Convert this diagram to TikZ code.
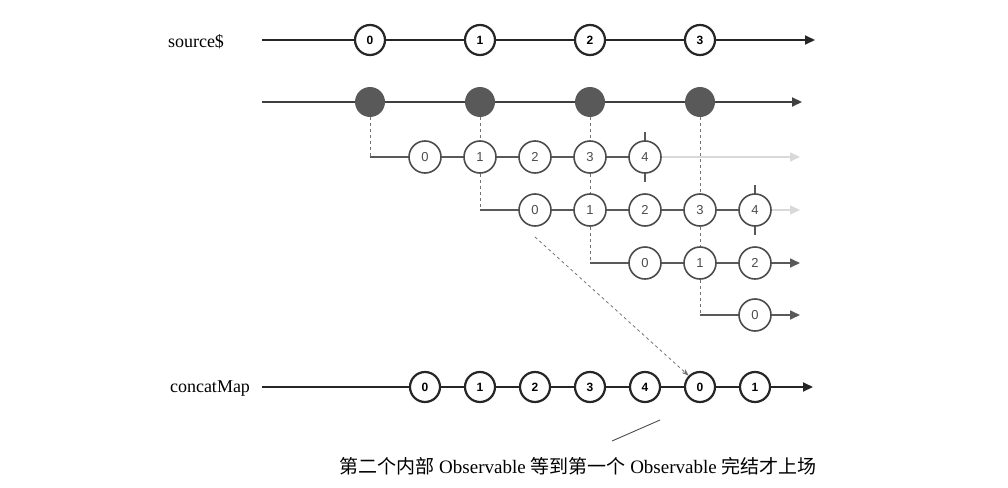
\documentclass[tikz,border=0pt]{standalone}
\usepackage{fontspec}
\setmainfont{Liberation Serif}
\newfontfamily\numfont{Liberation Sans}
\newfontfamily\cjk{Noto Sans CJK SC}
\usetikzlibrary{arrows.meta}
\tikzset{
 line/.style={draw=black!75,line width=2pt},
 thin/.style={draw=black!65,line width=1.6pt},
 ghost/.style={draw=black!15,line width=1.6pt},
 vdash/.style={draw=black!55,dashed,line width=0.8pt},
 big/.style={circle,draw=black!85,line width=2.2pt,fill=white,minimum size=30pt,inner sep=0pt,font=\numfont\bfseries\fontsize{12}{14}\selectfont},
 sm/.style={circle,draw=black!70,line width=1.6pt,fill=white,minimum size=32pt,inner sep=0pt,font=\numfont\fontsize{13}{15}\selectfont,text=black!70},
 dot/.style={circle,fill=black!65,minimum size=30pt,inner sep=0pt},
 tip/.style={-{Triangle[length=10pt,width=9pt]}},
 lbl/.style={font=\fontsize{18}{22}\selectfont}
}
\begin{document}
\begin{tikzpicture}[x=1pt,y=-1pt]
\useasboundingbox (0,0) rectangle (1008,487);
% source
\node[lbl] (src) at (196,42) {source\$};
\coordinate (s0) at (262,40); \coordinate (s1) at (815,40);
\draw[line,tip,draw=black!85] (s0) -- (s1);
\foreach \i/\x in {0/370,1/480,2/590,3/700} \node[big] (a\i) at (\x,40) {\i};
% higher-order
\coordinate (h0) at (262,102); \coordinate (h1) at (802,102);
\draw[line,tip,draw=black!75] (h0) -- (h1);
\foreach \i/\x in {0/370,1/480,2/590,3/700} \node[dot] (d\i) at (\x,102) {};
% inner 1
\coordinate (c1) at (370,157); \coordinate (e1) at (800,157);
\draw[vdash] (d0) -- (c1);
\draw[ghost,tip,draw=black!15] (645,157) -- (e1);
\draw[thin] (c1) -- (645,157);
\draw[thin] (645,132) -- (645,182);
\foreach \i/\x in {0/425,1/480,2/535,3/590,4/645} \node[sm] (p\i) at (\x,157) {\i};
% inner 2
\coordinate (c2) at (480,210); \coordinate (e2) at (800,210);
\draw[vdash] (d1) -- (p1); \draw[vdash] (p1) -- (c2);
\draw[ghost,tip,draw=black!15] (755,210) -- (e2);
\draw[thin] (c2) -- (755,210);
\draw[thin] (755,185) -- (755,235);
\foreach \i/\x in {0/535,1/590,2/645,3/700,4/755} \node[sm] (q\i) at (\x,210) {\i};
% inner 3
\coordinate (c3) at (590,263); \coordinate (e3) at (800,263);
\draw[vdash] (d2) -- (p3); \draw[vdash] (p3) -- (q1); \draw[vdash] (q1) -- (c3);
\draw[thin,tip] (c3) -- (e3);
\foreach \i/\x in {0/645,1/700,2/755} \node[sm] (r\i) at (\x,263) {\i};
% inner 4
\coordinate (c4) at (700,315); \coordinate (e4) at (800,315);
\draw[vdash] (d3) -- (q3); \draw[vdash] (q3) -- (r1); \draw[vdash] (r1) -- (c4);
\draw[thin,tip] (c4) -- (e4);
\node[sm] (t0) at (755,315) {0};
% output
\node[lbl] (cm) at (210,389) {concatMap};
\coordinate (o0) at (262,387); \coordinate (o1) at (813,387);
\draw[line,tip,draw=black!85] (o0) -- (o1);
\foreach \i/\x/\n in {0/425/0,1/480/1,2/535/2,3/590/3,4/645/4,5/700/0,6/755/1} \node[big] (o\i) at (\x,387) {\n};
% dashed arrow
\coordinate (da) at (535,237);
\draw[vdash,-{Stealth[length=7pt]}] (da) -- (o5.north west);
% annotation
\coordinate (an) at (612,441);
\draw[black!70,line width=0.9pt] (an) -- (660,420);
\node[font=\fontsize{19}{23}\selectfont] (note) at (578,466) {{\cjk 第二个内部} Observable {\cjk 等到第一个} Observable {\cjk 完结才上场}};
\end{tikzpicture}
\end{document}
